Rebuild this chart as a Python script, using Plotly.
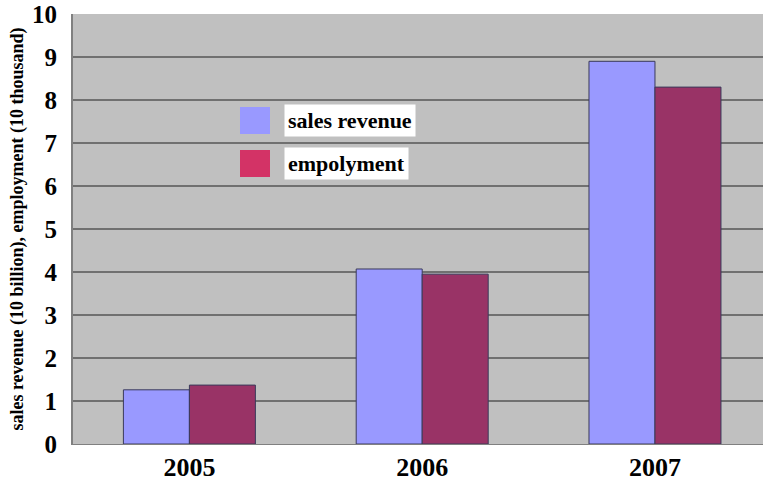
import plotly.graph_objects as go

years = ["2005", "2006", "2007"]
sales_revenue = [1.26, 4.07, 8.9]
employment = [1.37, 3.95, 8.3]
series_names = ["sales revenue", "empolyment"]
y_title = "sales revenue (10 billion), employment (10 thousand)"

bar_colors = ["#9999FF", "#993366"]
swatch_colors = ["#9999FF", "#D33366"]
serif = "Liberation Serif, Times New Roman, serif"

fig = go.Figure()
for name, vals, col in zip(series_names, [sales_revenue, employment], bar_colors):
    fig.add_trace(go.Bar(
        x=years, y=vals, name=name,
        marker=dict(color=col, line=dict(color="#3a3a5a", width=1)),
        showlegend=False,
    ))

# hand-placed legend inside the plot area
for i, (name, col) in enumerate(zip(series_names, swatch_colors)):
    y0 = 1 - (107 + i * 43 - 14) / 430
    y1 = 1 - (134 + i * 43 - 14) / 430
    fig.add_shape(type="rect", xref="paper", yref="paper",
                  x0=(240 - 73) / 690, x1=(270 - 73) / 690, y0=y1, y1=y0,
                  fillcolor=col, line=dict(width=0), layer="above")
    fig.add_annotation(xref="paper", yref="paper",
                       x=(284 - 73) / 690, y=(y0 + y1) / 2,
                       xanchor="left", yanchor="middle", showarrow=False,
                       text="<b>%s</b>" % name, bgcolor="white",
                       font=dict(family=serif, size=22, color="black"),
                       borderpad=3)

fig.update_layout(
    width=763, height=484,
    margin=dict(l=73, r=0, t=14, b=40),
    paper_bgcolor="white",
    plot_bgcolor="#C0C0C0",
    barmode="group",
    bargap=0.433,
    bargroupgap=0,
    font=dict(family=serif, color="black"),
    xaxis=dict(
        range=[-0.5, 2.464],
        tickfont=dict(family=serif, size=26, color="black"),
        tickprefix="<b>", ticksuffix="</b>",
        showgrid=False, showline=True, linecolor="#808080", linewidth=1,
        ticks="",
    ),
    yaxis=dict(
        range=[0, 10], dtick=1,
        tickfont=dict(family=serif, size=25, color="black"),
        tickprefix="<b>", ticksuffix="</b>",
        showgrid=True, gridcolor="#707070", gridwidth=2,
        showline=True, linecolor="#808080", linewidth=2,
        zeroline=False, ticks="", ticklabelstandoff=9,
        title=dict(text="<b>%s</b>" % y_title,
                   font=dict(family=serif, size=18, color="black"),
                   standoff=4),
    ),
)

fig.write_html("out.html")
